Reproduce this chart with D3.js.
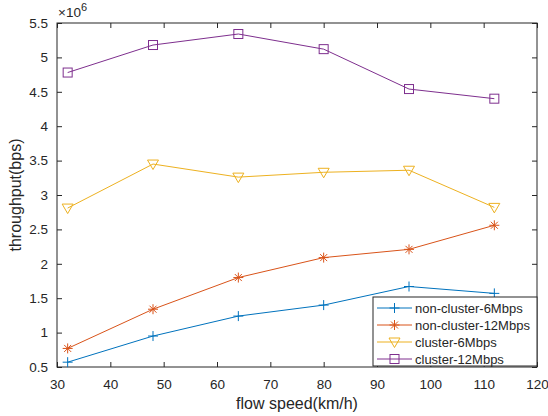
<!DOCTYPE html>
<html lang="en">
<meta charset="utf-8">
<head>
    <script src='https://d3js.org/d3.v7.min.js'></script>
    <style>
        body { margin: 0; background: #fff; }
        text { font-family: "Liberation Sans", Arial, sans-serif; fill: #262626; }
    </style>
</head>
<body>
<div id="chart"></div>
<script>

// data (throughput in units of 1e6 bps)
const speeds = [32, 48, 64, 80, 96, 112]
const nonCluster6 = [0.57, 0.95, 1.24, 1.40, 1.67, 1.57]
const nonCluster12 = [0.77, 1.34, 1.80, 2.09, 2.21, 2.56]
const cluster6 = [2.81, 3.45, 3.26, 3.33, 3.36, 2.82]
const cluster12 = [4.78, 5.18, 5.34, 5.12, 4.54, 4.40]
const seriesNames = ["non-cluster-6Mbps", "non-cluster-12Mbps", "cluster-6Mbps", "cluster-12Mbps"]
const xTicks = [30, 40, 50, 60, 70, 80, 90, 100, 110, 120]
const yTicks = [0.5, 1, 1.5, 2, 2.5, 3, 3.5, 4, 4.5, 5, 5.5]

const series = [
    {name: seriesNames[0], values: nonCluster6, color: "#0072BD", marker: "plus"},
    {name: seriesNames[1], values: nonCluster12, color: "#D95319", marker: "star"},
    {name: seriesNames[2], values: cluster6, color: "#EDB120", marker: "tri"},
    {name: seriesNames[3], values: cluster12, color: "#7E2F8E", marker: "square"}
]

const width = 548, height = 416
const margin = {top: 23, right: 11, bottom: 49, left: 57}
const iw = width - margin.left - margin.right
const ih = height - margin.top - margin.bottom

const svg = d3.select("#chart").append("svg")
    .attr("width", width)
    .attr("height", height)

const g = svg.append("g").attr("transform", `translate(${margin.left},${margin.top})`)

const x = d3.scaleLinear().domain([30, 120]).range([0, iw])
const y = d3.scaleLinear().domain([0.5, 5.5]).range([ih, 0])

// box
g.append("rect").attr("width", iw).attr("height", ih)
    .attr("fill", "none").attr("stroke", "#262626").attr("stroke-width", 1)

// ticks inside the box, labels outside
const xAxis = g.append("g").attr("transform", `translate(0,${ih})`)
    .call(d3.axisBottom(x).tickValues(xTicks).tickSize(-5).tickPadding(12))
const xTop = g.append("g")
    .call(d3.axisTop(x).tickValues(xTicks).tickSize(-5).tickFormat(""))
const yAxis = g.append("g")
    .call(d3.axisLeft(y).tickValues(yTicks).tickSize(-5).tickPadding(9).tickFormat(d3.format("")))
const yRight = g.append("g").attr("transform", `translate(${iw},0)`)
    .call(d3.axisRight(y).tickValues(yTicks).tickSize(-5).tickFormat(""))

for (const a of [xAxis, xTop, yAxis, yRight]) {
    a.select(".domain").remove()
    a.selectAll(".tick line").attr("stroke", "#262626")
    a.selectAll("text").style("font-size", "13.5px").attr("fill", "#262626")
}

// exponent label
const ex = svg.append("text").attr("x", margin.left + 1).attr("y", 17).style("font-size", "13.5px")
ex.append("tspan").text("\u00d710")
ex.append("tspan").attr("dy", -6).style("font-size", "11px").text("6")

// axis titles
svg.append("text").attr("x", margin.left + iw / 2).attr("y", 409)
    .attr("text-anchor", "middle").style("font-size", "16px").text("flow speed(km/h)")
svg.append("text").attr("transform", `translate(21,${margin.top + ih / 2}) rotate(-90)`)
    .attr("text-anchor", "middle").style("font-size", "16px").text("throughput(bps)")

function drawMarker(sel, type, color) {
    if (type === "plus") {
        sel.append("path").attr("d", "M-5,0H5M0,-5V5")
    } else if (type === "star") {
        sel.append("path").attr("d", "M-5,0H5M0,-5V5M-3.5,-3.5L3.5,3.5M-3.5,3.5L3.5,-3.5")
    } else if (type === "tri") {
        sel.append("path").attr("d", "M-5.5,-4L5.5,-4L0,5.5Z").attr("fill", "none")
    } else {
        sel.append("rect").attr("x", -4.5).attr("y", -4.5).attr("width", 9).attr("height", 9).attr("fill", "none")
    }
    sel.selectAll("path,rect").attr("stroke", color).attr("stroke-width", 1).attr("fill", "none")
}

const line = d3.line().x((d, i) => x(speeds[i])).y(d => y(d))

for (const s of series) {
    g.append("path").datum(s.values)
        .attr("d", line).attr("fill", "none")
        .attr("stroke", s.color).attr("stroke-width", 1)
    s.values.forEach((v, i) => {
        const m = g.append("g").attr("transform", `translate(${x(speeds[i])},${y(v)})`)
        drawMarker(m, s.marker, s.color)
    })
}

// legend
const lg = svg.append("g").attr("transform", "translate(373,297)")
lg.append("rect").attr("width", 164).attr("height", 69)
    .attr("fill", "#fff").attr("stroke", "#262626").attr("stroke-width", 1)
series.forEach((s, i) => {
    const row = lg.append("g").attr("transform", `translate(0,${11 + i * 17})`)
    row.append("line").attr("x1", 4).attr("x2", 39).attr("stroke", s.color).attr("stroke-width", 1)
    const m = row.append("g").attr("transform", "translate(21.5,0)")
    drawMarker(m, s.marker, s.color)
    row.append("text").attr("x", 42).attr("y", 5).style("font-size", "13px").text(s.name)
})

</script>
</body>
</html>
